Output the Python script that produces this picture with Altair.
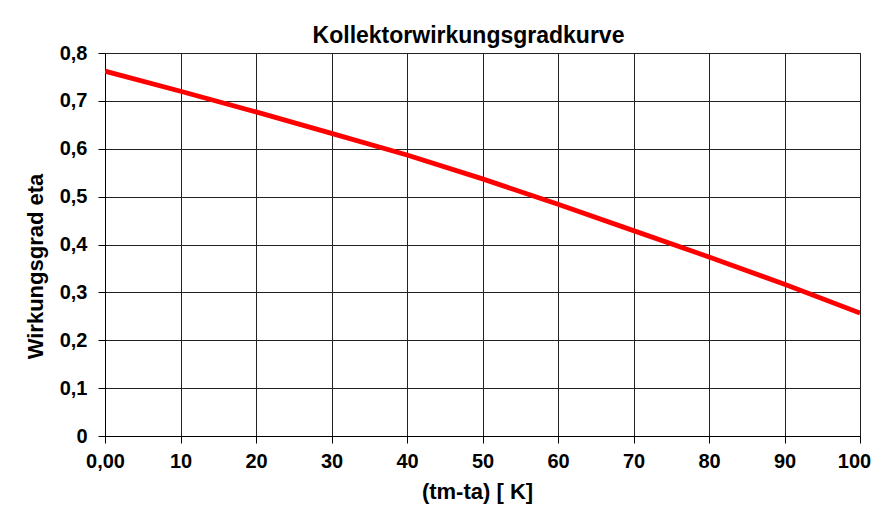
import altair as alt
import pandas as pd

# Temperature difference (tm - ta) in K
dT = [0, 10, 20, 30, 40, 50, 60, 70, 80, 90, 100]
# Collector efficiency
eta = [0.762, 0.720, 0.677, 0.632, 0.587, 0.537, 0.484, 0.429, 0.374, 0.317, 0.257]

x_ticks = [0, 10, 20, 30, 40, 50, 60, 70, 80, 90, 100]
y_ticks = [0, 0.1, 0.2, 0.3, 0.4, 0.5, 0.6, 0.7, 0.8]

df = pd.DataFrame({"dT": dT, "eta": eta})

FONT = "Liberation Sans"

line = alt.Chart(df).mark_line(color="#ff0000", strokeWidth=4.8, clip=True).encode(
    x=alt.X(
        "dT:Q",
        scale=alt.Scale(domain=[0, 100], nice=False, zero=False),
        axis=alt.Axis(
            values=x_ticks,
            labelExpr="datum.value == 0 ? '0,00' : format(datum.value, 'd')",
            title="(tm-ta) [ K]",
            titleFontSize=22,
            titlePadding=10,
            titleX=372,
            labelPadding=8,
            labelFlush=False,
            labelOffset=alt.condition("datum.value == 100", alt.value(-6), alt.value(0)),
        ),
    ),
    y=alt.Y(
        "eta:Q",
        scale=alt.Scale(domain=[0, 0.8], nice=False),
        axis=alt.Axis(
            values=y_ticks,
            labelExpr="datum.value == 0 ? '0' : replace(format(datum.value, '.1f'), '.', ',')",
            title="Wirkungsgrad eta",
            titleFontSize=22,
            titlePadding=12,
            titleY=213,
            labelPadding=11,
            labelFlush=False,
        ),
    ),
)

chart = line.properties(
    width=755,
    height=383,
    autosize=alt.AutoSizeParams(type="none"),
    padding={"left": 97, "top": 45, "right": 12, "bottom": 83},
    background="white",
    title=alt.TitleParams(
        "Kollektorwirkungsgradkurve",
        fontSize=23,
        font=FONT,
        fontWeight="bold",
        color="black",
        anchor="middle",
        dx=-14,
        offset=-5,
    ),
).configure_axis(
    labelFont=FONT,
    labelFontSize=20,
    labelFontWeight="bold",
    labelColor="black",
    titleFont=FONT,
    titleFontWeight="bold",
    titleColor="black",
    domainColor="black",
    domainWidth=1,
    tickColor="black",
    tickSize=7,
    tickWidth=1,
    gridColor="#222222",
    gridWidth=1,
    gridOpacity=1,
).configure_view(
    stroke="black",
    strokeWidth=1,
)

chart.save("out.html", embed_options={"renderer": "svg", "actions": False})
